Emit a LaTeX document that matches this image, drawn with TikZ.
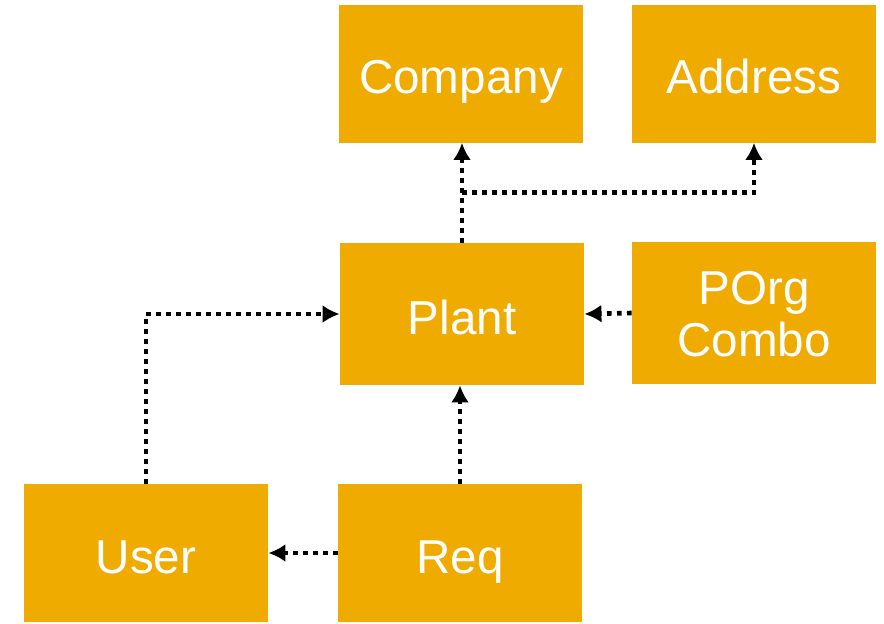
\documentclass[tikz,border=0pt]{standalone}
\usepackage{fontspec}
\setmainfont{Liberation Sans}
\usetikzlibrary{arrows.meta, calc, positioning}
\definecolor{sapgold}{RGB}{240,171,0}
\tikzset{
    my-box/.style={
        fill=sapgold, text=white, inner sep=0pt, align=center,
        minimum width=122pt, minimum height=69pt,
        text height=22pt, text depth=2pt,
        font=\fontsize{23.8}{26}\selectfont
    },
    my-tall-box/.style={
        my-box, minimum height=71pt
    },
    my-two-line-box/.style={
        my-tall-box, text height=45pt
    },
    my-link/.style={
        draw=black, line width=2.3pt, dash pattern=on 2.3pt off 2.7pt,
        -{Latex[length=8.5pt, width=9pt]}
    },
}
\begin{document}
\begin{tikzpicture}[x=0.5pt, y=-0.5pt]

        % CANVAS
        \useasboundingbox (0, 0) rectangle (884, 623);

        % TOP ROW
        \node[my-box]          (COMPANY) at (461, 73.5) {Company};
        \node[my-box]          (ADDRESS) at (754, 73.5) {Address};

        % MIDDLE ROW
        \node[my-tall-box]     (PLANT)   at (462, 314)  {Plant};
        \node[my-two-line-box] (PORG)    at (754, 313)  {POrg\\Combo};

        % BOTTOM ROW
        \node[my-box]          (USER)    at (146, 553)  {User};
        \node[my-box]          (REQ)     at (460, 553)  {Req};

        % BRANCH POINT BETWEEN PLANT AND COMPANY
        \coordinate (BRANCH) at ($(PLANT.north)!.5!(PLANT.north |- COMPANY.south)$);

        % PLANT LINKS
        \draw[my-link] (PLANT.north) -- (PLANT.north |- COMPANY.south);
        \draw[my-link] (BRANCH) -| (ADDRESS.south);
        \draw[my-link] (PORG.west)   -- (PLANT.east);

        % USER AND REQ LINKS
        \draw[my-link] (USER.north) |- (PLANT.west);
        \draw[my-link] (REQ.north)  -- (REQ.north |- PLANT.south);
        \draw[my-link] (REQ.west)   -- (USER.east);

    \end{tikzpicture}
\end{document}
